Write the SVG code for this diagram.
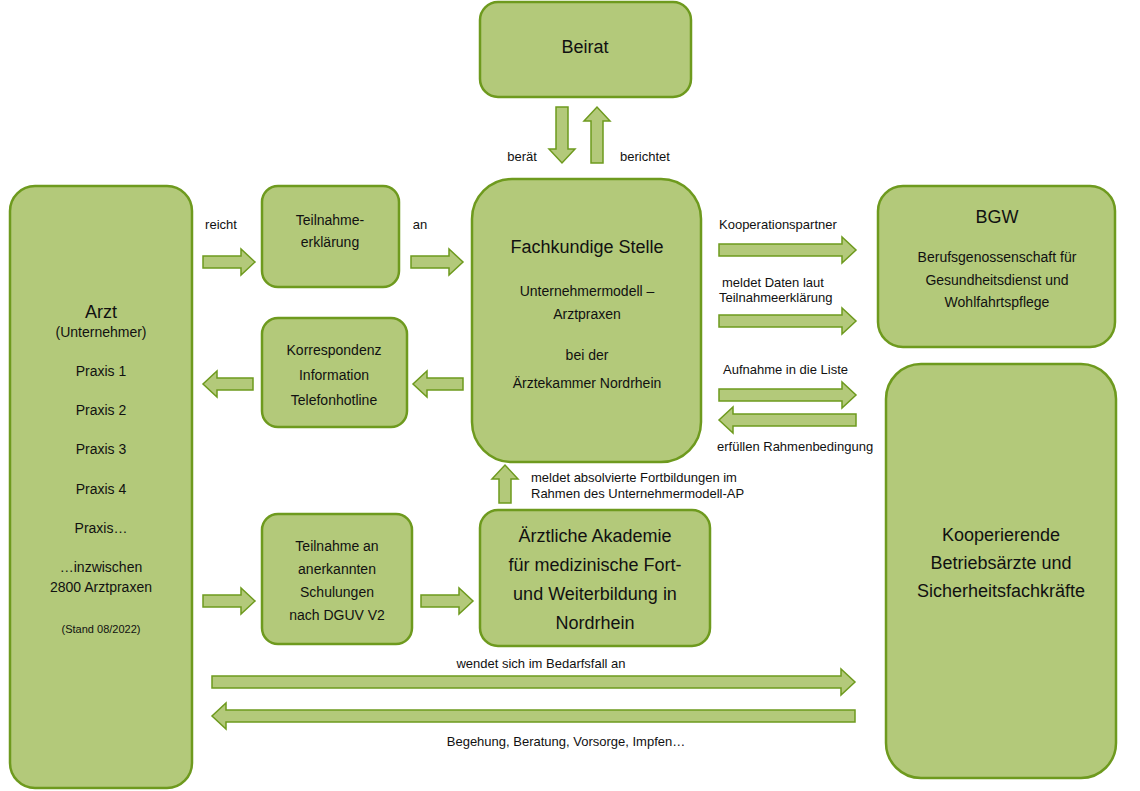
<svg xmlns="http://www.w3.org/2000/svg" width="1140" height="791" viewBox="0 0 1140 791">
<style>
.n{fill:#b3c97a;stroke:#6e9a1e;stroke-width:2.5}
.a{fill:#b3c97a;stroke:#6e9a1e;stroke-width:1.5}
text{font-family:"Liberation Sans",Arial,sans-serif;fill:#111;text-anchor:middle}
.s{font-size:14px}.l{font-size:13px}.b{font-size:18px}
.lt{text-anchor:start}
</style>
<rect width="1140" height="791" fill="#fff"/>
<g id="beirat"><rect class="n" x="480" y="2" width="211" height="95" rx="18"/><text class="b" x="585" y="53">Beirat</text></g>
<g id="arzt"><rect class="n" x="10" y="186" width="182" height="602" rx="25"/>
<text class="b" x="101" y="318">Arzt</text><text class="s" x="101" y="337">(Unternehmer)</text>
<text class="s" x="101" y="376">Praxis 1</text><text class="s" x="101" y="415">Praxis 2</text><text class="s" x="101" y="454">Praxis 3</text><text class="s" x="101" y="494">Praxis 4</text><text class="s" x="101" y="533">Praxis…</text>
<text class="s" x="101" y="572">…inzwischen</text><text class="s" x="101" y="592">2800 Arztpraxen</text><text style="font-size:11px" x="101" y="633">(Stand 08/2022)</text></g>
<g id="teilnahmeerklaerung"><rect class="n" x="262" y="186" width="137" height="101" rx="16"/><text class="s" x="330" y="225">Teilnahme-</text><text class="s" x="330" y="247">erklärung</text></g>
<g id="korrespondenz"><rect class="n" x="262" y="318" width="145" height="109" rx="16"/><text class="s" x="334" y="355">Korrespondenz</text><text class="s" x="334" y="380">Information</text><text class="s" x="334" y="405">Telefonhotline</text></g>
<g id="fachkundige"><rect class="n" x="472" y="179" width="229" height="283" rx="40"/>
<text class="b" x="587" y="253">Fachkundige Stelle</text><text class="s" x="587" y="296">Unternehmermodell –</text><text class="s" x="587" y="319">Arztpraxen</text><text class="s" x="587" y="360">bei der</text><text class="s" x="587" y="388">Ärztekammer Nordrhein</text></g>
<g id="bgw"><rect class="n" x="878" y="186" width="237" height="161" rx="25"/><text class="b" x="997" y="223">BGW</text>
<text class="s" x="997" y="262">Berufsgenossenschaft für</text><text class="s" x="997" y="285">Gesundheitsdienst und</text><text class="s" x="997" y="307">Wohlfahrtspflege</text></g>
<g id="kooperierende"><rect class="n" x="886" y="364" width="230" height="414" rx="35"/>
<text class="b" x="1001" y="541">Kooperierende</text><text class="b" x="1001" y="569">Betriebsärzte und</text><text class="b" x="1001" y="597">Sicherheitsfachkräfte</text></g>
<g id="teilnahme-schulungen"><rect class="n" x="262" y="514" width="150" height="130" rx="16"/><text class="s" x="337" y="551">Teilnahme an</text><text class="s" x="337" y="574">anerkannten</text><text class="s" x="337" y="597">Schulungen</text><text class="s" x="337" y="620">nach DGUV V2</text></g>
<g id="akademie"><rect class="n" x="480" y="510" width="230" height="136" rx="18"/>
<text class="b" x="595" y="542">Ärztliche Akademie</text><text class="b" x="595" y="571">für medizinische Fort-</text><text class="b" x="595" y="600">und Weiterbildung in</text><text class="b" x="595" y="629">Nordrhein</text></g>
<g id="connectors">
<polygon class="a" points="203,256 241,256 241,249 255,262 241,275 241,268 203,268"/>
<polygon class="a" points="411,256 449,256 449,249 463,262 449,275 449,268 411,268"/>
<polygon class="a" points="463,378 427,378 427,371 413,384 427,397 427,390 463,390"/>
<polygon class="a" points="253,378 217,378 217,371 203,384 217,397 217,390 253,390"/>
<polygon class="a" points="719,244 842,244 842,237 856,250 842,263 842,256 719,256"/>
<polygon class="a" points="719,315 842,315 842,308 856,321 842,334 842,327 719,327"/>
<polygon class="a" points="719,389 842,389 842,382 856,395 842,408 842,401 719,401"/>
<polygon class="a" points="856,414 733,414 733,407 719,420 733,433 733,426 856,426"/>
<polygon class="a" points="556,107 556,149 549,149 562,163 575,149 568,149 568,107"/>
<polygon class="a" points="591,163 591,121 584,121 597,107 610,121 603,121 603,163"/>
<polygon class="a" points="499,503 499,479 492,479 505,465 518,479 511,479 511,503"/>
<polygon class="a" points="203,595 241,595 241,588 255,601 241,614 241,607 203,607"/>
<polygon class="a" points="421,595 459,595 459,588 473,601 459,614 459,607 421,607"/>
<polygon class="a" points="212,676 841,676 841,669 855,682 841,695 841,688 212,688"/>
<polygon class="a" points="855,710 226,710 226,703 212,716 226,729 226,722 855,722"/>
<text class="l" x="221" y="229">reicht</text><text class="l" x="420" y="229">an</text>
<text class="l" x="522" y="161">berät</text><text class="l" x="645" y="161">berichtet</text>
<text class="l lt" x="719" y="229">Kooperationspartner</text>
<text class="l lt" x="722" y="287">meldet Daten laut</text><text class="l lt" x="719" y="302">Teilnahmeerklärung</text>
<text class="l lt" x="723" y="374">Aufnahme in die Liste</text><text class="l lt" x="717" y="451">erfüllen Rahmenbedingung</text>
<text class="l lt" x="531" y="482">meldet absolvierte Fortbildungen im</text><text class="l lt" x="531" y="498">Rahmen des Unternehmermodell-AP</text>
<text class="l" x="541" y="668">wendet sich im Bedarfsfall an</text>
<text class="l" x="566" y="746">Begehung, Beratung, Vorsorge, Impfen…</text>
</g>
</svg>
